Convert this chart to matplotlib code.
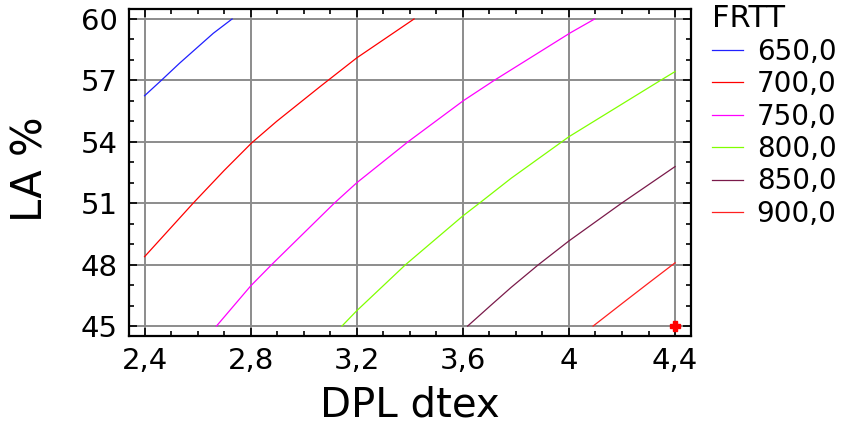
import numpy as np
import matplotlib
matplotlib.use("Agg")
import matplotlib.pyplot as plt
from matplotlib.ticker import MultipleLocator, FuncFormatter

# contour levels of FRTT
levels = ["650,0", "700,0", "750,0", "800,0", "850,0", "900,0"]
colors = ["#2020ff", "#ff0000", "#ff00ff", "#80ff00", "#7a1a4a", "#ff2020"]

# DPL dtex (x) / LA % (y) points along each contour
x650 = [2.40, 2.463, 2.532, 2.659, 2.730]
y650 = [56.25, 57.0, 57.84, 59.30, 60.0]

x700 = [2.40, 2.583, 2.70, 2.804, 2.898, 3.062, 3.20, 3.416]
y700 = [48.39, 51.0, 52.6, 53.95, 55.0, 56.7, 58.1, 60.0]

x750 = [2.671, 2.80, 2.879, 3.115, 3.20, 3.393, 3.602, 3.718, 4.006, 4.097]
y750 = [45.0, 46.96, 48.0, 51.0, 52.0, 54.0, 56.01, 57.0, 59.33, 60.0]

x800 = [3.144, 3.20, 3.384, 3.60, 3.662, 3.782, 4.0, 4.345, 4.40]
y800 = [45.0, 45.75, 48.0, 50.38, 51.0, 52.22, 54.25, 57.0, 57.43]

x850 = [3.618, 3.706, 3.782, 3.885, 4.0, 4.198, 4.40]
y850 = [45.0, 46.02, 46.89, 48.0, 49.16, 51.0, 52.79]

x900 = [4.091, 4.204, 4.30, 4.40]
y900 = [45.0, 46.14, 47.1, 48.09]

xs = [x650, x700, x750, x800, x850, x900]
ys = [y650, y700, y750, y800, y850, y900]

# optimum marker
opt_x = [4.4]
opt_y = [45.0]

plt.rcParams['font.family'] = ['DejaVu Sans']

fig = plt.figure(figsize=(8.52, 4.26), dpi=100)
ax = fig.add_axes([0.151, 0.211, 0.66, 0.768])

for x, y, c, lab in zip(xs, ys, colors, levels):
    ax.plot(x, y, color=c, lw=0.9, label=lab, zorder=3)

ax.plot(opt_x, opt_y, marker='P', color='red', ms=7, ls='none', zorder=5,
        clip_on=False)

ax.set_xlim(2.34, 4.46)
ax.set_ylim(44.51, 60.49)
ax.xaxis.set_major_locator(MultipleLocator(0.4))
ax.xaxis.set_minor_locator(MultipleLocator(0.1))
ax.yaxis.set_major_locator(MultipleLocator(3))
ax.yaxis.set_minor_locator(MultipleLocator(1))
ax.xaxis.set_major_formatter(FuncFormatter(lambda v, p: f"{v:g}".replace('.', ',')))

ax.grid(True, which='major', color='#8c8c8c', lw=1.4, zorder=1)
ax.tick_params(which='both', direction='in', top=True, right=True,
               color='black', width=1.2)
ax.tick_params(which='major', length=6, pad=8, labelsize=21)
ax.tick_params(which='minor', length=3.5)
for s in ax.spines.values():
    s.set_linewidth(1.6)

ax.set_xlabel("DPL dtex", fontsize=29, va='baseline')
ax.set_ylabel("LA %", fontsize=30)
ax.xaxis.set_label_coords(0.5, -0.245)
ax.yaxis.set_label_coords(-0.137, 0.51)

handles, labs = ax.get_legend_handles_labels()
leg = fig.legend(handles, labs, title="FRTT", loc='upper left',
                 bbox_to_anchor=(0.836, 0.99), frameon=False, fontsize=20,
                 title_fontsize=22, handlelength=1.1, handletextpad=0.5,
                 labelspacing=0.16, alignment='left', borderaxespad=0,
                 borderpad=0)

fig.savefig("out.png", dpi=100)
